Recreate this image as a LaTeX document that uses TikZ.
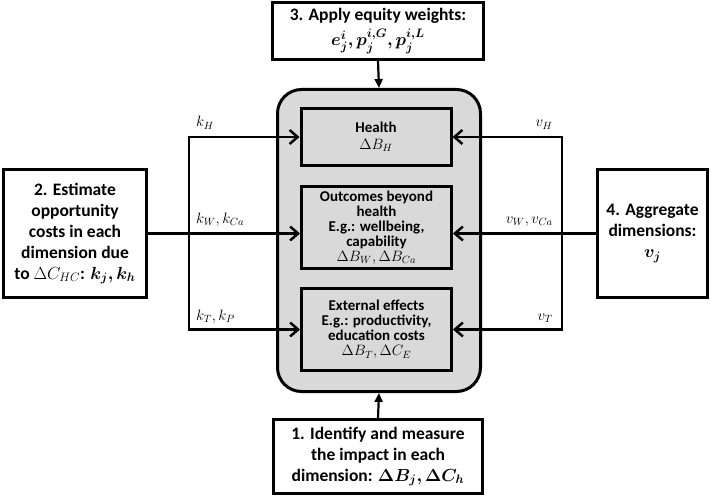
\RequirePackage{fix-cm}
\documentclass[tikz,border=0pt]{standalone}
\usepackage{amsmath,bm}
\usepackage{fontspec}
\setmainfont{Carlito}
\usetikzlibrary{arrows.meta,calc}
\begin{document}
\begin{tikzpicture}[x=1pt,y=-1pt,
  bigbox/.style={draw,line width=3pt,fill=white,align=center,inner sep=0pt,
    font=\fontsize{17.5}{21}\selectfont\bfseries},
  innerbox/.style={draw,line width=3pt,fill=boxgray,align=center,inner sep=0pt,
    minimum width=150pt,font=\fontsize{15}{15}\selectfont\bfseries},
  lab/.style={inner sep=0pt,font=\fontsize{15}{17}\selectfont},
  harr/.style={line width=2.5pt,-{Straight Barb[length=8pt,width=14pt]}},
  varr/.style={line width=2.2pt,-{Triangle[length=9pt,width=8pt]}}]
\definecolor{boxgray}{HTML}{D9D9D9}
\useasboundingbox (0,0) rectangle (711,497);
% container
\node[draw,line width=3pt,fill=boxgray,rounded corners=24pt,minimum width=203pt,minimum height=302pt,inner sep=0pt] (gray) at (379,240.5) {};
% inner boxes
\node[innerbox,minimum height=57pt] (health) at (376,137) {Health\\[2pt] $\Delta B_H$};
\node[innerbox,minimum height=82pt] (outc) at (376.5,227.5) {Outcomes beyond\\ health\\ E.g.: wellbeing,\\ capability\\ $\Delta B_W, \Delta B_{Ca}$};
\node[innerbox,minimum height=82pt] (ext) at (376.5,329.5) {External effects\\ E.g.: productivity,\\ education costs\\ $\Delta B_T, \Delta C_E$};
% outer boxes
\node[bigbox,minimum width=211pt,minimum height=57pt] (box3) at (378,31) {3. Apply equity weights:\\[4pt] $\bm{e_j^i, p_j^{i,G}, p_j^{i,L}}$};
\node[bigbox,minimum width=143pt,minimum height=128pt] (box2) at (75,233.5) {2. Estimate\\ opportunity\\ costs in each\\ dimension due\\ to $\Delta C_{HC}$: $\bm{k_j, k_h}$};
\node[bigbox,minimum width=110pt,minimum height=128pt] (box4) at (652.5,233.5) {4. Aggregate\\ dimensions:\\ $\bm{v_j}$};
\node[bigbox,minimum width=209pt,minimum height=74pt] (box1) at (378,456.5) {1. Identify and measure\\ the impact in each\\ dimension: $\bm{\Delta B_j, \Delta C_h}$};
% vertical arrows
\draw[varr] (box3.south) -- (gray.north);
\draw[varr] (box1.north) -- (gray.south);
% left branches
\coordinate (lb) at (189,233.5);
\draw[harr] (box2.east) -- (box2.east -| outc.west);
\draw[harr] (lb) |- (health.west);
\draw[harr] (lb) |- (ext.west);
% right branches
\coordinate (rb) at (562,233.5);
\draw[harr] (box4.west) -- (box4.west -| outc.east);
\draw[harr] (rb) |- (health.east);
\draw[harr] (rb) |- (ext.east);
% labels
\node[lab,anchor=base west] (lkh) at (196,127) {$k_H$};
\node[lab,anchor=base west] (lkw) at (196,223) {$k_W, k_{Ca}$};
\node[lab,anchor=base west] (lkt) at (196,320) {$k_T, k_P$};
\node[lab,anchor=base east] (lvh) at (553,127) {$v_H$};
\node[lab,anchor=base east] (lvw) at (553,223) {$v_W, v_{Ca}$};
\node[lab,anchor=base east] (lvt) at (553,320) {$v_T$};
\end{tikzpicture}
\end{document}
